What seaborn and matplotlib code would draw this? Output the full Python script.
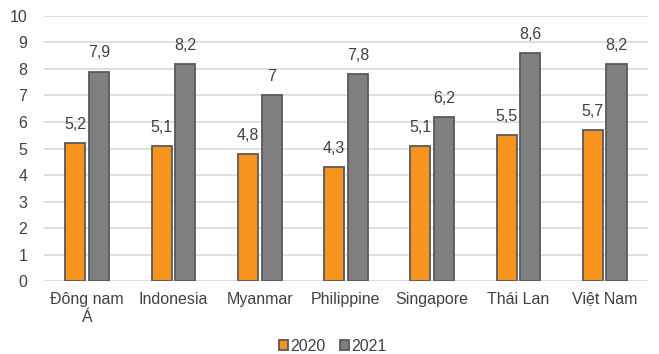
import pandas as pd
import matplotlib
matplotlib.use("Agg")
import matplotlib.pyplot as plt
import seaborn as sns

# data
countries = ["Đông nam\nÁ", "Indonesia", "Myanmar", "Philippine", "Singapore", "Thái Lan", "Việt Nam"]
years = ["2020", "2021"]
values_2020 = [5.2, 5.1, 4.8, 4.3, 5.1, 5.5, 5.7]
values_2021 = [7.9, 8.2, 7.0, 7.8, 6.2, 8.6, 8.2]

df = pd.DataFrame({
    "country": countries * 2,
    "year": [years[0]] * len(countries) + [years[1]] * len(countries),
    "value": values_2020 + values_2021,
})

sns.set_theme(style="white")
plt.rcParams["font.family"] = ["Liberation Sans", "DejaVu Sans"]

TEXT = "#404040"
FS = 11.5
palette = {"2020": "#F7941D", "2021": "#7F7F81"}

fig, ax = plt.subplots(figsize=(6.59, 3.54), dpi=100)
fig.subplots_adjust(left=0.067, right=0.983, top=0.955, bottom=0.206)

sns.barplot(data=df, x="country", y="value", hue="year", palette=palette,
            width=0.55, gap=0.15, edgecolor="#595959", linewidth=1.3,
            saturation=1, ax=ax, legend=True)

for cont in ax.containers:
    labels = [f"{v:g}".replace(".", ",") for v in cont.datavalues]
    ax.bar_label(cont, labels=labels, padding=8, fontsize=FS, color=TEXT)

ax.set_ylim(0, 10)
ax.set_yticks(range(0, 11))
ax.set_xlim(-0.5, len(countries) - 0.5)
ax.yaxis.grid(True, color="#D9D9D9", linewidth=1.2)
ax.set_axisbelow(True)
for s in ax.spines.values():
    s.set_visible(False)
ax.set_xlabel("")
ax.set_ylabel("")
ax.tick_params(axis="both", length=0, labelsize=FS, colors=TEXT)
ax.tick_params(axis="y", pad=12)
ax.tick_params(axis="x", pad=8)

handles, labs = ax.get_legend_handles_labels()
ax.get_legend().remove()
fig.legend(handles, labs, loc="lower center", bbox_to_anchor=(0.505, -0.04),
           ncol=2, frameon=False, handlelength=0.55, handleheight=0.55,
           handletextpad=0.15, columnspacing=0.9, fontsize=FS,
           labelcolor=TEXT)

fig.savefig("out.png", dpi=100)
